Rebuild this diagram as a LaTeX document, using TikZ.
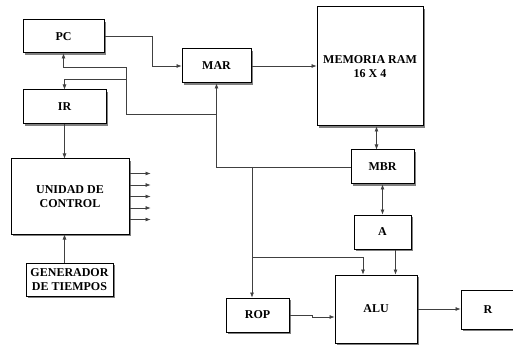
\documentclass[tikz,border=0pt]{standalone}
\usepackage{fontspec}
\setmainfont{Liberation Serif}
\usepackage{tikz}
\usetikzlibrary{positioning,arrows.meta,calc,shadows}

\begin{document}
\begin{tikzpicture}[
x=1pt, y=-1pt,
>={Latex[length=5pt,width=4pt]},
reg/.style={draw, line width=1pt, fill=white, inner sep=1pt, align=center,
  font=\fontsize{12}{13.5}\selectfont\bfseries,
  drop shadow={shadow xshift=2pt, shadow yshift=-2pt, fill=black!50, opacity=1}},
bus/.style={draw=black!75, line width=0.6pt}
]
\useasboundingbox (0,0) rectangle (513,347);
\node[reg, minimum width=81pt, minimum height=33pt] (PC) at (63.5,36.5) {PC};
\node[reg, minimum width=69pt, minimum height=34pt] (MAR) at (216.5,66) {MAR};
\node[reg, minimum width=83pt, minimum height=34pt] (IR) at (64.5,107) {IR};
\node[reg, minimum width=118pt, minimum height=75pt] (UC) at (70,196.5) {UNIDAD DE\\CONTROL};
\node[reg, minimum width=87pt, minimum height=33pt] (GEN) at (69.5,279.5) {GENERADOR\\DE TIEMPOS};
\node[reg, minimum width=106pt, minimum height=119pt] (RAM) at (370,66.5) {MEMORIA RAM\\16 X 4};
\node[reg, minimum width=63pt, minimum height=34pt] (MBR) at (382.5,167) {MBR};
\node[reg, minimum width=57pt, minimum height=34pt] (A) at (382.5,232) {A};
\node[reg, minimum width=82pt, minimum height=68pt] (ALU) at (376,309) {ALU};
\node[reg, minimum width=63pt, minimum height=34pt] (ROP) at (257.5,315) {ROP};
\node[reg, minimum width=54pt, minimum height=39pt] (R) at (488,309.5) {R};
% bus junctions
\coordinate (busL) at (126,114);
\coordinate (busM) at (MAR.south |- busL);
\coordinate (busR) at (252,167);
\coordinate (busA) at (252,257);
\coordinate (ramio) at ($(MBR.north)+(-6,0)$);
% address path
\draw[bus,->] (PC.east) -- ++(48,0) |- (MAR.west);
\draw[bus,->] (MAR.east) -- (MAR.east -| RAM.west);
\draw[bus,<->] (ramio) -- (ramio |- RAM.south);
\draw[bus,<->] (MBR.south) -- (A.north);
% data bus
\draw[bus,->] (MBR.west) -| (MAR.south);
\draw[bus] (busM) -- (busL);
\draw[bus,->] (busL) |- ($(PC.south)+(0,14)$) -- (PC.south);
\draw[bus,->] ($(busL)+(0,-35)$) -| (IR.north);
\draw[bus,->] (busR) -- (busR |- ROP.north);
\draw[bus,->] (busA) -| ($(ALU.north)+(-13,0)$);
\draw[bus,->] ($(A.south)+(13,0)$) -- ($(ALU.north)+(19.5,0)$);
% control unit
\draw[bus,->] (IR.south) -- (IR.south |- UC.north);
\draw[bus,->] (IR.south |- GEN.north) -- (IR.south |- UC.south);
\foreach \dy in {-23,-11.5,0,11.5,23}
  \draw[bus,->] ($(UC.east)+(0,\dy)$) -- ++(21,0);
% alu
\draw[bus,->] (ROP.east) -- ++(23,0) -- ++(0,2) coordinate (ropj) -- (ropj -| ALU.west);
\draw[bus,->] (ALU.east) -- (ALU.east -| R.west);
\end{tikzpicture}
\end{document}
